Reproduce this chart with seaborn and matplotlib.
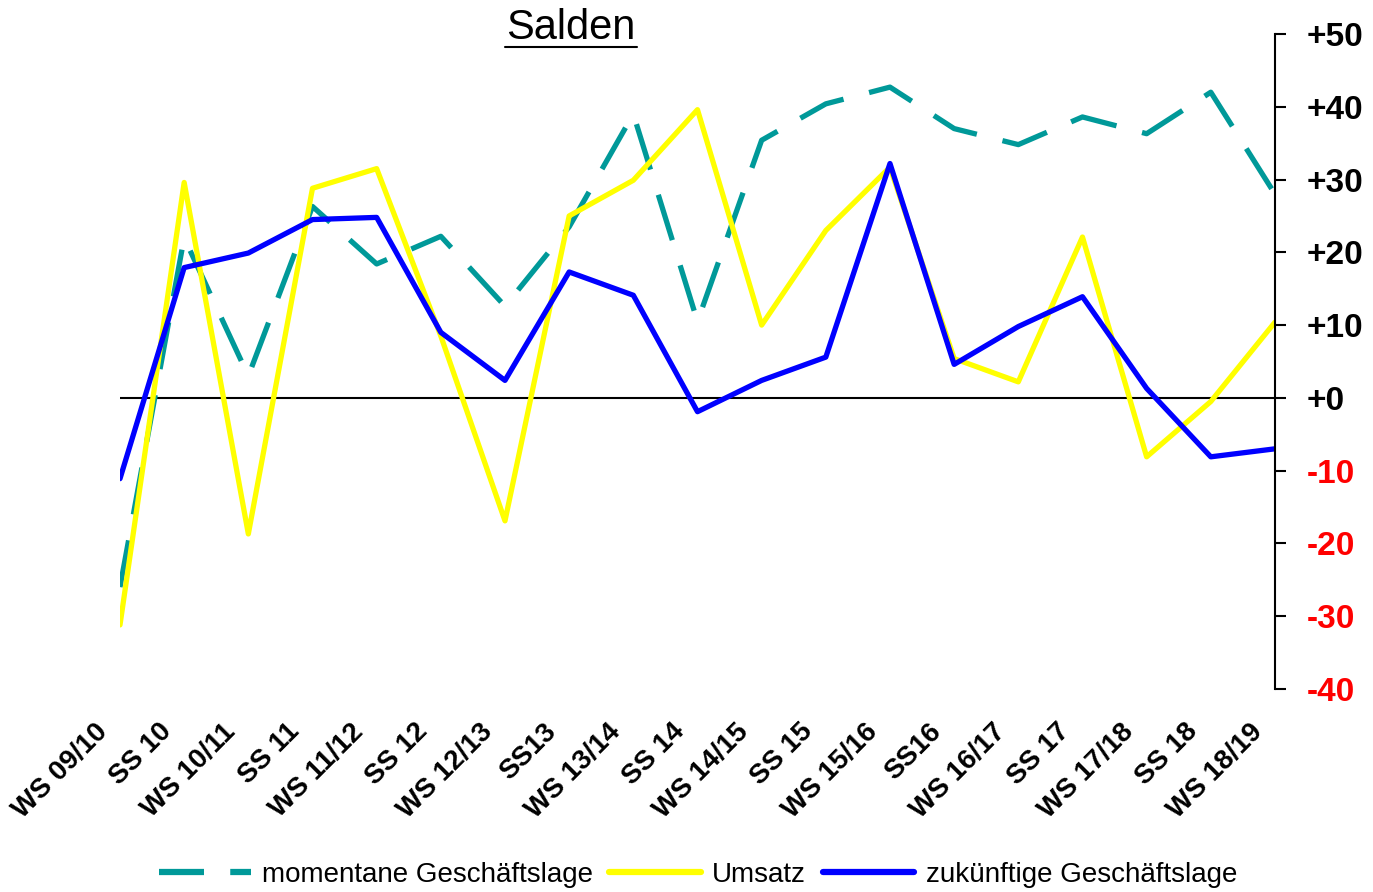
import numpy as np
import pandas as pd
import seaborn as sns
import matplotlib.pyplot as plt
from matplotlib.lines import Line2D
from matplotlib.transforms import ScaledTranslation

# Semester
semester = ["WS 09/10", "SS 10", "WS 10/11", "SS 11", "WS 11/12", "SS 12", "WS 12/13",
            "SS13", "WS 13/14", "SS 14", "WS 14/15", "SS 15", "WS 15/16", "SS16",
            "WS 16/17", "SS 17", "WS 17/18", "SS 18", "WS 18/19"]

# Salden je Reihe
momentan = [-26, 22, 3, 26.3, 18.4, 22.2, 12.6, 23.5, 39, 10.5, 35.4, 40.4, 42.7, 37,
            34.8, 38.6, 36.3, 42, 28]
umsatz = [-31.2, 29.6, -18.7, 28.8, 31.5, 8.5, -16.9, 25, 29.9, 39.6, 10, 23, 31.7, 5.4,
          2.2, 22.1, -8.1, -0.5, 10.4]
zukunft = [-11.1, 17.9, 19.9, 24.5, 24.8, 9, 2.4, 17.3, 14.1, -1.9, 2.4, 5.6, 32.2, 4.6,
           9.8, 13.9, 1.3, -8.1, -7.0]

y_ticks = [-40, -30, -20, -10, 0, 10, 20, 30, 40, 50]

sns.set_style("white")
plt.rcParams['font.family'] = ['Liberation Sans', 'DejaVu Sans']
plt.rcParams['text.color'] = 'black'
plt.rcParams['xtick.color'] = 'black'
plt.rcParams['ytick.color'] = 'black'

fig = plt.figure(figsize=(13.73, 8.92), dpi=100)
ax = fig.add_axes([0.0874, 0.2276, 0.8412, 0.7343])

df = pd.DataFrame({"pos": np.arange(len(semester)), "momentan": momentan,
                   "umsatz": umsatz, "zukunft": zukunft})

ax.axhline(0, color="black", lw=1.5, zorder=1)
sns.lineplot(data=df, x="pos", y="momentan", ax=ax, color="#009999", lw=3.8,
             linestyle=(0, (9, 5)), label="momentane Geschäftslage")
sns.lineplot(data=df, x="pos", y="umsatz", ax=ax, color="#FFFF00", lw=3.8,
             label="Umsatz")
sns.lineplot(data=df, x="pos", y="zukunft", ax=ax, color="#0000FF", lw=3.8,
             label="zukünftige Geschäftslage")

ax.set_xlim(0, len(semester) - 1)
ax.set_ylim(-40, 50)
ax.set_xlabel("")
ax.set_ylabel("")

for s in ["left", "top", "bottom"]:
    ax.spines[s].set_visible(False)
ax.spines["right"].set_color("black")
ax.spines["right"].set_linewidth(1.5)

# y-Achse rechts
ax.yaxis.tick_right()
ax.set_yticks(y_ticks)
ax.set_yticklabels([f"+{v}" if v >= 0 else f"{v}" for v in y_ticks],
                   fontsize=24, fontweight="bold")
for lab, v in zip(ax.get_yticklabels(), y_ticks):
    lab.set_color("red" if v < 0 else "black")
ax.tick_params(axis="y", direction="out", length=8, width=1.5, pad=15, color="black")

# x-Achse
ax.set_xticks(np.arange(len(semester)))
ax.set_xticklabels(semester, fontsize=20, fontweight="bold", rotation=45,
                   ha="right", va="center", rotation_mode="anchor")
ax.tick_params(axis="x", length=0, pad=28)
shift = ScaledTranslation(-12 / 72, 0, fig.dpi_scale_trans)
for lab in ax.get_xticklabels():
    lab.set_transform(lab.get_transform() + shift)

ax.get_legend().remove()
handles, labels = ax.get_legend_handles_labels()
leg = fig.legend(handles, labels, loc="center", bbox_to_anchor=(698 / 1373, 1 - 875 / 892),
                 ncol=3, frameon=False, fontsize=20, handlelength=3.3,
                 handletextpad=0.4, columnspacing=0.6)
for line in leg.get_lines():
    line.set_linewidth(4.5)
leg.get_lines()[0].set_linestyle((0, (7.2, 4.2)))

# Titel
fig.text(571 / 1373, 1 - 28 / 892, "Salden", fontsize=30, ha="center", va="center")
fig.add_artist(Line2D([505 / 1373, 637 / 1373], [1 - 47 / 892, 1 - 47 / 892],
                      color="black", lw=1.5, transform=fig.transFigure))

fig.savefig("out.png", dpi=100)
